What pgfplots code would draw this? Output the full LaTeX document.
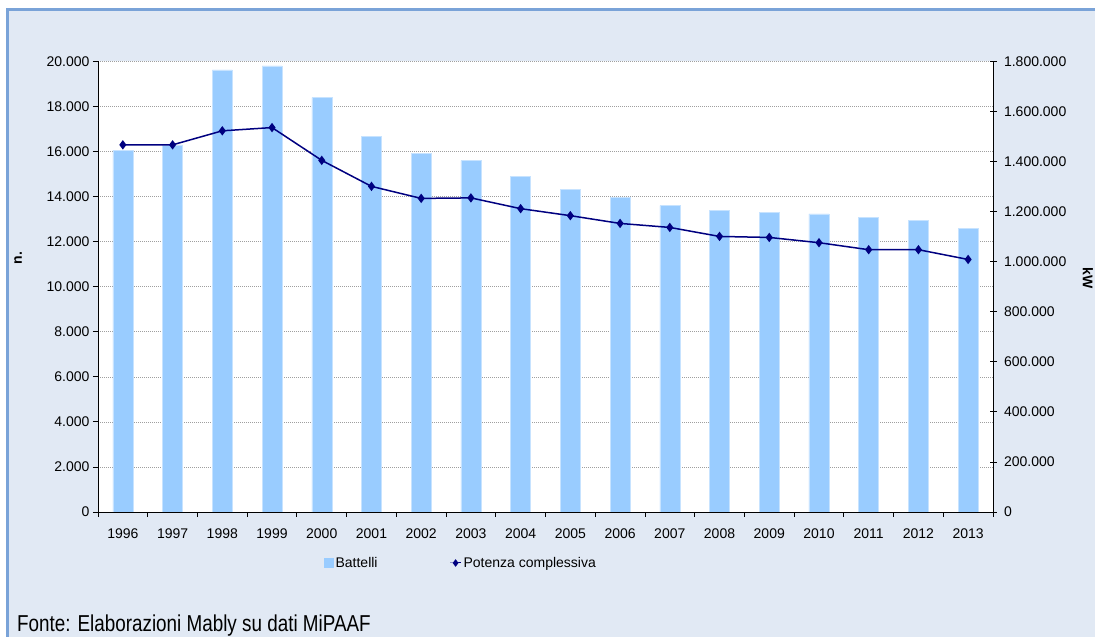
\documentclass[border=0pt]{standalone}
\usepackage{fontspec}
\setmainfont{Liberation Sans}
\usepackage{pgfplots}
\pgfplotsset{compat=1.18}
\definecolor{barblue}{HTML}{99CCFF}
\definecolor{navyline}{HTML}{000080}
\definecolor{bgblue}{HTML}{E1E9F4}
\definecolor{frameblue}{HTML}{7AA3D8}
\newcommand\ff{\fontsize{14}{16.8}\selectfont}
\pgfplotsset{/pgf/number format/.cd, fixed, precision=0, 1000 sep={.}, assume math mode=true}
\begin{document}
\begin{tikzpicture}
\useasboundingbox (0,0) rectangle (1095pt,637pt);
\clip (0,0) rectangle (1095pt,637pt);
\fill[bgblue] (7.5pt,-10pt) rectangle (1110pt,627.5pt);
\draw[frameblue, line width=2.5pt] (7.5pt,-10pt) -- (7.5pt,627.5pt) -- (1110pt,627.5pt);
\begin{axis}[
  at={(98pt,125pt)}, anchor=south west, scale only axis,
  width=895pt, height=450.5pt,
  axis background/.style={fill=white},
  xmin=0.5, xmax=18.5, ymin=0, ymax=20000,
  axis x line*=bottom, axis y line*=left,
  axis line style={black, line width=0.8pt, -},
  xtick={1,...,18},
  xticklabels={1996,1997,1998,1999,2000,2001,2002,2003,2004,2005,2006,2007,2008,2009,2010,2011,2012,2013},
  major x tick style={draw=none},
  minor xtick={0.5,1.5,...,18.5},
  minor x tick style={black, line width=0.8pt},
  tick align=outside, major tick length=5pt, minor tick length=5pt,
  ytick={0,2000,...,20000},
  ytick style={black, line width=0.8pt},
  ymajorgrids, grid style={gray!75, dash pattern=on 1pt off 1pt, line width=0.6pt},
  scaled y ticks=false,
  yticklabel={\pgfmathprintnumber[fixed,precision=0,1000 sep={.},assume math mode=true]{\tick}},
  tick label style={font=\ff},
  xticklabel style={yshift=-8pt},
  ylabel={\textbf{n.}},
  ylabel style={font=\ff, at={(axis description cs:-0.0894,0.5638)}, anchor=center},
]
\addplot[ybar, bar width=20pt, fill=barblue, draw=barblue!55!white, line width=0.5pt] coordinates {
(1,16070) (2,16300) (3,19630) (4,19810) (5,18400) (6,16670) (7,15910) (8,15600) (9,14890)
(10,14310) (11,13960) (12,13600) (13,13380) (14,13300) (15,13240) (16,13080) (17,12930) (18,12580)};
\end{axis}
\begin{axis}[
  at={(98pt,125pt)}, anchor=south west, scale only axis,
  width=895pt, height=450.5pt,
  xmin=0.5, xmax=18.5, ymin=0, ymax=1800000,
  axis x line=none, axis y line*=right,
  axis line style={black, line width=0.8pt, -},
  ytick={0,200000,400000,600000,800000,1000000,1200000,1400000,1600000,1800000},
  yticklabels={0,200.000,400.000,600.000,800.000,1.000.000,1.200.000,1.400.000,1.600.000,1.800.000},
  ytick style={black, line width=0.8pt},
  ytick align=center, major tick length=7pt,
  scaled y ticks=false,
  yticklabel style={font=\ff, xshift=4pt},
  ylabel={\textbf{kW}},
  ylabel style={font=\ff, at={(axis description cs:1.1061,0.5194)}, anchor=center, rotate=180},
  legend style={at={(axis description cs:0.2525,-0.1132)}, anchor=west, draw=none, fill=none,
    font=\ff, inner sep=0pt, /tikz/every even column/.append style={column sep=70pt}},
  legend columns=2, legend cell align=left,
]
\addlegendimage{legend image code/.code={\fill[barblue] (0pt,-4.5pt) rectangle (9pt,4.5pt);}}
\addlegendentry{Battelli}
\addplot[navyline, line width=1.5pt, mark=diamond*, mark size=3.5pt, mark options={solid},
  legend image code/.code={\draw[mark repeat=2,mark phase=2, line width=1pt, mark size=3pt] plot coordinates {(0pt,0pt) (5.5pt,0pt) (11pt,0pt)};}] coordinates {
(1,1467000) (2,1467000) (3,1523000) (4,1536000) (5,1405000) (6,1301000) (7,1253000) (8,1255000) (9,1212000)
(10,1184000) (11,1153000) (12,1137000) (13,1101000) (14,1097000) (15,1076000) (16,1048000) (17,1048000) (18,1009000)};
\addlegendentry{Potenza complessiva}
\end{axis}
\node[anchor=base west, inner sep=0pt, xscale=0.82, font=\fontsize{23}{26}\selectfont] at (17pt,5.3pt) {Fonte: Elaborazioni Mably su dati MiPAAF};
\end{tikzpicture}
\end{document}
